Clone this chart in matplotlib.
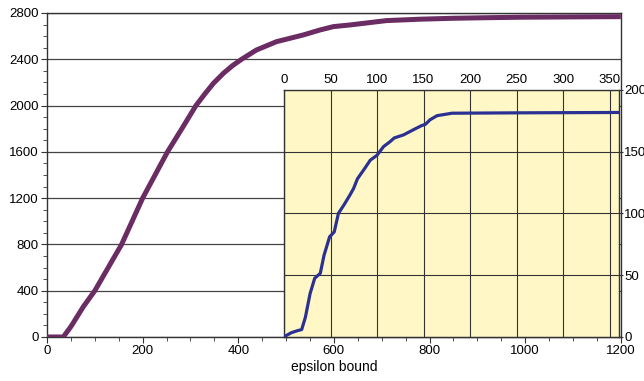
import numpy as np
import matplotlib
matplotlib.use("Agg")
from matplotlib import pyplot as plt
from matplotlib.ticker import MultipleLocator

# main curve: epsilon bound vs count
main_x = [0, 20, 34, 50, 76, 100, 128, 156, 178, 200, 226, 252, 282, 311.5, 330, 348, 369,
          388, 407, 438, 480, 536, 571, 599, 633, 710, 780, 849, 920, 989, 1100, 1200]
main_y = [0, 0, 0, 90, 262, 400, 600, 800, 1000, 1200, 1400, 1600, 1800, 2000, 2100, 2192, 2279,
          2345, 2400, 2480, 2552, 2610, 2653, 2682, 2696, 2734, 2746, 2754, 2759, 2763, 2766, 2768]

# inset curve
inset_x = [0, 2, 8, 14, 19, 23, 28, 33, 39, 43, 49, 54, 58.5, 64.6, 71, 74.7, 79, 87, 92.7,
           100, 107, 114, 118.5, 128.6, 139, 148, 152, 157, 164.5, 180.6, 250, 360]
inset_y = [0, 1, 3.5, 5, 6, 16, 35, 47.5, 51.5, 66, 81, 85, 100, 107, 115, 120, 128, 136.6, 143,
           147, 154, 158, 161, 163.5, 167.6, 171, 172, 175.7, 179, 181, 181.3, 181.6]

plt.rcParams['font.family'] = ['Liberation Sans', 'DejaVu Sans']
fig = plt.figure(figsize=(6.44, 3.81), dpi=100)

ax = fig.add_axes([0.073, 0.1155, 0.891, 0.8505])
ax.plot(main_x, main_y, color="#6a2c62", linewidth=3.6, solid_capstyle="butt", zorder=3)
ax.set_xlim(0, 1200)
ax.set_ylim(0, 2800)
ax.xaxis.set_major_locator(MultipleLocator(200))
ax.xaxis.set_minor_locator(MultipleLocator(50))
ax.yaxis.set_major_locator(MultipleLocator(400))
ax.yaxis.set_minor_locator(MultipleLocator(100))
ax.grid(axis="y", color="#444444", linewidth=0.9)
ax.tick_params(which="major", direction="out", length=4, labelsize=9.5, color="#333333", pad=2)
ax.tick_params(which="minor", direction="out", length=3, color="#333333")
for s in ax.spines.values():
    s.set_color("#333333")
    s.set_linewidth(1.0)
ax.set_xlabel("epsilon bound", fontsize=10, labelpad=2)

ins = fig.add_axes([0.441, 0.1155, 0.520, 0.649])
ins.set_facecolor("#fff8c6")
ins.plot(inset_x, inset_y, color="#2b3193", linewidth=2.3, zorder=3)
ins.set_xlim(0, 360)
ins.set_ylim(0, 200)
ins.xaxis.set_major_locator(MultipleLocator(50))
ins.yaxis.set_major_locator(MultipleLocator(50))
ins.xaxis.tick_top()
ins.yaxis.tick_right()
ins.grid(True, color="#333333", linewidth=0.8)
ins.tick_params(axis="x", length=0, labelsize=9.5, pad=3)
ins.tick_params(axis="y", length=3, labelsize=9.5, pad=1, color="#333333")
for s in ins.spines.values():
    s.set_color("#333333")
    s.set_linewidth(1.0)

fig.savefig("out.png", dpi=100)
